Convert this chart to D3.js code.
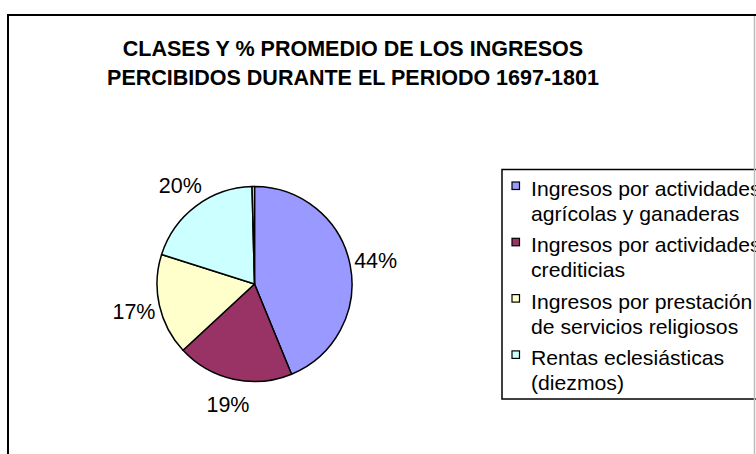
<!DOCTYPE html>
<html lang="es">
<head>
    <meta charset="UTF-8">
    <title>Clases y % promedio de los ingresos</title>
    <script src="https://d3js.org/d3.v7.min.js"></script>
    <style>
        body {
            margin: 0;
            background: #fff;
        }
        svg {
            font-family: "Liberation Sans", Arial, sans-serif;
            display: block;
        }
    </style>
</head>
<body>
    <div id="chart"></div>
    <script>
        // data
        var categories = [
            ["Ingresos por actividades", "agrícolas y ganaderas"],
            ["Ingresos por actividades", "crediticias"],
            ["Ingresos por prestación", "de servicios religiosos"],
            ["Rentas eclesiásticas", "(diezmos)"],
            [] // tiny unlabeled slice at the top
        ];
        var values = [43.8, 19.3, 16.8, 19.7, 0.4];
        var colors = ["#9999FF", "#993366", "#FFFFCC", "#CCFFFF", "#FFFFFF"];
        var titleLines = [
            "CLASES Y % PROMEDIO DE LOS INGRESOS",
            "PERCIBIDOS DURANTE EL PERIODO 1697-1801"
        ];

        var width = 756, height = 454;

        var svg = d3.select("#chart").append("svg")
            .attr("width", width)
            .attr("height", height);

        // outer chart frame (runs off the right and bottom edge)
        svg.append("rect")
            .attr("x", 8).attr("y", 15)
            .attr("width", 800).attr("height", 500)
            .attr("fill", "none")
            .attr("stroke", "#000")
            .attr("stroke-width", 2);

        // title
        svg.append("g")
            .selectAll("text")
            .data(titleLines)
            .join("text")
            .attr("x", 353)
            .attr("y", (d, i) => 56 + i * 29)
            .attr("text-anchor", "middle")
            .attr("font-weight", "bold")
            .attr("font-size", "21.5px")
            .text(d => d);

        // pie
        var cx = 254.5, cy = 284, r = 97.5;
        var pct = d3.format(".0%");

        var pie = d3.pie().sort(null).value(d => d);
        var arcs = pie(values);
        var arc = d3.arc().innerRadius(0).outerRadius(r);
        var labelArc = d3.arc().innerRadius(r + 26).outerRadius(r + 26);

        var g = svg.append("g").attr("transform", `translate(${cx},${cy})`);

        g.selectAll("path")
            .data(arcs)
            .join("path")
            .attr("d", arc)
            .attr("fill", (d, i) => colors[i])
            .attr("stroke", "#000")
            .attr("stroke-width", 1.5)
            .attr("stroke-linejoin", "round");

        g.selectAll("text")
            .data(arcs.filter((d, i) => categories[i].length))
            .join("text")
            .attr("transform", d => `translate(${labelArc.centroid(d)})`)
            .attr("text-anchor", "middle")
            .attr("dy", "0.36em")
            .attr("font-size", "21.5px")
            .attr("fill", "#000")
            .text(d => pct(d.value / 100));

        // legend
        var legend = svg.append("g");
        legend.append("rect")
            .attr("x", 502).attr("y", 169.5)
            .attr("width", 300).attr("height", 229.5)
            .attr("fill", "#fff")
            .attr("stroke", "#000")
            .attr("stroke-width", 1.5);

        var items = legend.selectAll("g.item")
            .data(categories.filter(c => c.length))
            .join("g")
            .attr("class", "item")
            .attr("transform", (d, i) => `translate(0,${196 + i * 56.3})`);

        items.append("rect")
            .attr("x", 512).attr("y", -14)
            .attr("width", 7.5).attr("height", 7.5)
            .attr("fill", (d, i) => colors[i])
            .attr("stroke", "#000")
            .attr("stroke-width", 1.2);

        // the legend type is a little wider than it is tall
        items.append("text")
            .attr("transform", "translate(531,0) scale(1.06,1)")
            .attr("font-size", "20px")
            .selectAll("tspan")
            .data(d => d)
            .join("tspan")
            .attr("x", 0)
            .attr("y", (d, i) => i * 25)
            .text(d => d);

        // grey edge on the right
        svg.append("line")
            .attr("x1", 754.5).attr("x2", 754.5)
            .attr("y1", 16).attr("y2", height)
            .attr("stroke", "#bbb")
            .attr("stroke-width", 1.5);
    </script>
</body>
</html>
